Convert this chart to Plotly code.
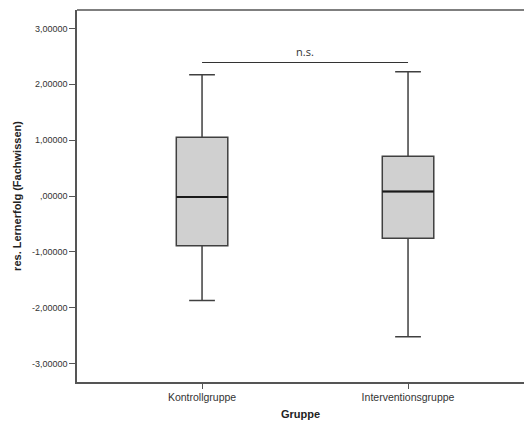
import plotly.graph_objects as go

groups = ["Kontrollgruppe", "Interventionsgruppe"]
q1 = [-0.89, -0.755]
median = [-0.02, 0.08]
q3 = [1.05, 0.71]
lower_whisker = [-1.87, -2.52]
upper_whisker = [2.17, 2.225]
sig_level = 2.39
sig_label = "n.s."
y_tickvals = [-3, -2, -1, 0, 1, 2, 3]
y_ticktext = ["-3,00000", "-2,00000", "-1,00000", ",00000", "1,00000", "2,00000", "3,00000"]

BOX_W = 0.25

fig = go.Figure()
for i, g in enumerate(groups):
    fig.add_trace(go.Box(
        x=[i], q1=[q1[i]], median=[median[i]], q3=[q3[i]],
        lowerfence=[lower_whisker[i]], upperfence=[upper_whisker[i]],
        name=g, width=BOX_W, whiskerwidth=0.5,
        fillcolor="#d0d0d0", line=dict(color="#404040", width=1.5),
        boxpoints=False, hoverinfo="skip", showlegend=False,
    ))
    # emphasised median line
    fig.add_trace(go.Scatter(
        x=[i - BOX_W / 2, i + BOX_W / 2], y=[median[i], median[i]],
        mode="lines", line=dict(color="#1a1a1a", width=2),
        hoverinfo="skip", showlegend=False,
    ))

fig.add_shape(type="line", x0=0, x1=1, y0=sig_level, y1=sig_level,
              xref="x", yref="y", line=dict(color="#333333", width=1.2))
fig.add_annotation(x=0.5, y=sig_level, xref="x", yref="y", text=sig_label,
                   showarrow=False, yanchor="bottom", yshift=2,
                   font=dict(family="Open Sans, Arial", size=11, color="#333333"))
# top frame line
fig.add_shape(type="line", x0=0, x1=1, y0=1, y1=1, xref="paper", yref="paper",
              line=dict(color="#555555", width=1.5))

fig.update_layout(
    width=524, height=425,
    margin=dict(l=77, r=0, t=10, b=43),
    paper_bgcolor="white", plot_bgcolor="white",
    font=dict(family="Liberation Sans, Arial", color="#333333"),
    xaxis=dict(
        range=[-0.607, 1.563], tickvals=[0, 1], ticktext=groups,
        showline=True, mirror=False, linecolor="#555555", linewidth=1.5,
        ticks="outside", ticklen=5, tickcolor="#555555", tickwidth=1,
        showgrid=False, zeroline=False,
        tickfont=dict(size=10.5, color="#333333"),
        title=dict(text="<b>Gruppe</b>", font=dict(size=11, color="#222222"), standoff=8),
    ),
    yaxis=dict(
        range=[-3.33, 3.33], tickvals=y_tickvals, ticktext=y_ticktext,
        showline=True, mirror=False, linecolor="#555555", linewidth=1.5,
        ticks="outside", ticklen=6, tickcolor="#555555", tickwidth=1,
        showgrid=False, zeroline=False,
        tickfont=dict(size=9, color="#333333"),
        title=dict(text="<b>res. Lernerfolg (Fachwissen)</b>", font=dict(size=11, color="#222222"), standoff=8),
    ),
)

fig.write_html("out.html", config={"displayModeBar": False})
with open("out.html", encoding="utf-8") as f:
    html = f.read()
html = html.replace("<body>", '<body style="margin:0;padding:0;overflow:hidden;">', 1)
with open("out.html", "w", encoding="utf-8") as f:
    f.write(html)
